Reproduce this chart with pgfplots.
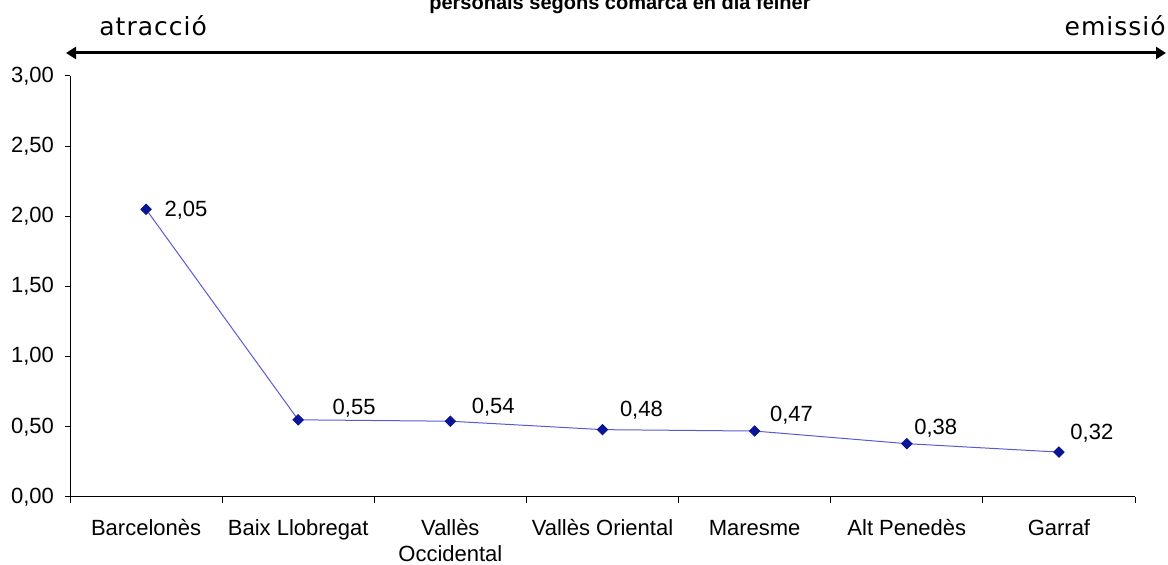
\documentclass[border=0pt]{standalone}
\usepackage{fontspec}
\setmainfont{Liberation Sans}
\newfontfamily\arrowfont[LetterSpace=4]{DejaVu Sans}
\usepackage{pgfplots}
\usepackage{pgfplotstable}
\pgfplotsset{compat=1.18}
\usetikzlibrary{arrows.meta}
\definecolor{linecol}{HTML}{5A5AD0}
\definecolor{markcol}{HTML}{0A1496}

\pgfplotstableread{
x y dx dy
0 2.05 9 -0.5
1 0.55 17 6
2 0.54 10.5 7
3 0.48 8.5 9.5
4 0.47 7.5 8
5 0.38 3.5 7.5
6 0.32 5.5 9.5
}\datatable

\begin{document}
\begin{tikzpicture}[x=0.5pt,y=-0.5pt]
\coordinate (O) at (70,497);
\begin{axis}[
  at={(O)}, anchor=south west,
  scale only axis, width=532.5pt, height=210.5pt,
  xmin=-0.5, xmax=6.5, ymin=0, ymax=3,
  axis x line=bottom, axis y line=left,
  axis line style={-, black, line width=0.5pt},
  tick align=outside,
  tick style={black, line width=0.5pt},
  xtick={0,...,6},
  major x tick style={draw=none},
  xticklabels={{\strut Barcelonès}, {\strut Baix Llobregat}, {\strut Vallès\\Occidental}, {\strut Vallès Oriental}, {\strut Maresme}, {\strut Alt Penedès}, {\strut Garraf}},
  xticklabel style={align=center, font=\fontsize{11}{13}\selectfont, yshift=-4pt},
  minor xtick={-0.5,0.5,...,6.5},
  minor tick length=3pt,
  ytick={0,0.5,1,1.5,2,2.5,3},
  major tick length=2.5pt,
  yticklabel style={font=\fontsize{11}{13}\selectfont, xshift=-2pt},
  /pgf/number format/.cd, fixed, fixed zerofill, precision=2, use comma, assume math mode=true,
]
\addplot[color=linecol, line width=0.5pt, mark=square*,
  mark size=1.8pt, mark options={rotate=45, draw=markcol, fill=markcol},
  visualization depends on={\thisrow{dx} \as \dx},
  visualization depends on={\thisrow{dy} \as \dy},
  nodes near coords={\pgfmathprintnumber[fixed,fixed zerofill,precision=2,use comma,assume math mode=true]{\pgfplotspointmeta}},
  nodes near coords style={anchor=west, inner sep=0pt, font=\fontsize{11}{13}\selectfont, text=black, xshift=\dx pt, yshift=\dy pt},
] table[x=x,y=y] {\datatable};
\end{axis}
\node[font=\bfseries\fontsize{10}{12}\selectfont, anchor=base] at (620,10) {personals segons comarca en dia feiner};
\draw[line width=1.5pt, {Triangle[length=5pt,width=6pt]}-{Triangle[length=5pt,width=6pt]}] (66,53) -- (1166,53);
\node[font=\arrowfont\fontsize{12.5}{14}\selectfont, anchor=base west, inner sep=0pt] at (99,36) {atracció};
\node[font=\arrowfont\fontsize{12.5}{14}\selectfont, anchor=base east, inner sep=0pt] at (1166,36) {emissió};
\pgfresetboundingbox
\useasboundingbox (0,0) rectangle (1168,565);
\end{tikzpicture}
\end{document}
